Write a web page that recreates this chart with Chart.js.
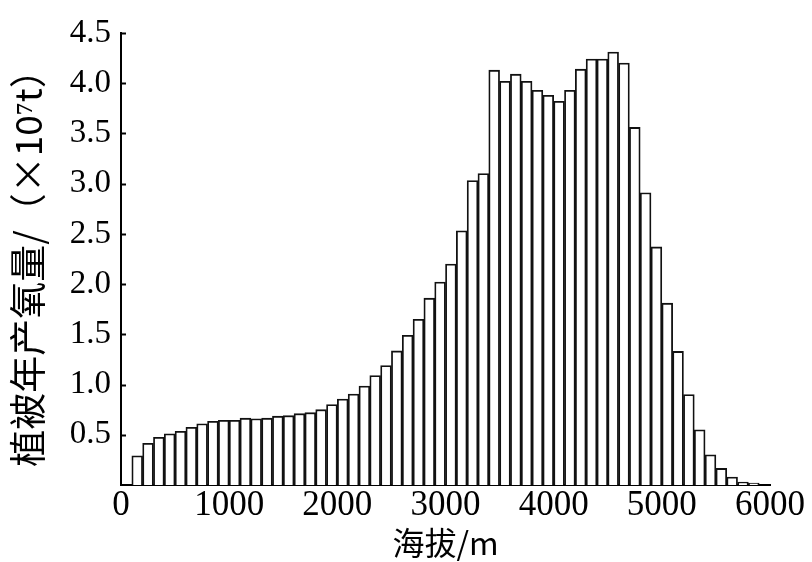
<!DOCTYPE html>
<html>
<head>
<meta charset="utf-8">
<title>植被年产氧量</title>
<script src="https://cdn.jsdelivr.net/npm/chart.js@4/dist/chart.umd.min.js"></script>
<style>
  html, body { margin: 0; padding: 0; background: #fff; }
  canvas { display: block; }
</style>
</head>
<body>
<canvas id="myChart" width="812" height="562"></canvas>
<script>
// altitude bins: each bar covers 100 m, centers at 150, 250 ... 5850
var altitudes = [150, 250, 350, 450, 550, 650, 750, 850, 950, 1050,
    1150, 1250, 1350, 1450, 1550, 1650, 1750, 1850, 1950, 2050,
    2150, 2250, 2350, 2450, 2550, 2650, 2750, 2850, 2950, 3050,
    3150, 3250, 3350, 3450, 3550, 3650, 3750, 3850, 3950, 4050,
    4150, 4250, 4350, 4450, 4550, 4650, 4750, 4850, 4950, 5050,
    5150, 5250, 5350, 5450, 5550, 5650, 5750, 5850];
// oxygen output, x10^7 t
var oxygen = [0.29, 0.415, 0.475, 0.51, 0.535, 0.575, 0.61, 0.635, 0.645, 0.645,
    0.665, 0.66, 0.665, 0.685, 0.69, 0.71, 0.72, 0.75, 0.80, 0.855,
    0.905, 0.985, 1.09, 1.19, 1.335, 1.49, 1.65, 1.86, 2.02, 2.20,
    2.53, 3.03, 3.10, 4.13, 4.02, 4.09, 4.02, 3.93, 3.88, 3.82,
    3.93, 4.14, 4.24, 4.24, 4.31, 4.20, 3.56, 2.91, 2.37, 1.81,
    1.33, 0.90, 0.55, 0.30, 0.165, 0.08, 0.03, 0.02];
var xTicks = [0, 1000, 2000, 3000, 4000, 5000, 6000];
var yTicks = [0.5, 1.0, 1.5, 2.0, 2.5, 3.0, 3.5, 4.0, 4.5];

var points = altitudes.map(function(a, i) { return {x: a, y: oxygen[i]}; });

// short tick marks on the inner side of the y axis
var innerTicks = {
    id: 'innerTicks',
    afterDraw: function(chart) {
        var c = chart.ctx, y = chart.scales.y, left = chart.chartArea.left;
        c.save();
        c.strokeStyle = '#000';
        c.lineWidth = 2;
        yTicks.forEach(function(v) {
            var py = Math.round(y.getPixelForValue(v)) + 0.5;
            c.beginPath();
            c.moveTo(left, py);
            c.lineTo(left + 5, py);
            c.stroke();
        });
        c.restore();
    }
};

var ctx = document.getElementById("myChart");
new Chart(ctx, {
    type: 'bar',
    data: {
        datasets: [{
            data: points,
            backgroundColor: '#fff',
            borderColor: '#111',
            borderWidth: 1.8,
            barPercentage: 1,
            categoryPercentage: 1
        }]
    },
    options: {
        responsive: false,
        animation: false,
        layout: { padding: { top: 33, right: 42, left: 0, bottom: 0 } },
        plugins: {
            legend: { display: false },
            tooltip: { enabled: false }
        },
        scales: {
            x: {
                type: 'linear',
                min: 0,
                max: 6000,
                offset: false,
                afterFit: function(s) { s.height = 77; },
                afterBuildTicks: function(s) {
                    s.ticks = xTicks.map(function(v) { return {value: v}; });
                },
                grid: { display: false, drawTicks: false },
                border: { display: true, color: '#000', width: 2 },
                ticks: {
                    padding: 0,
                    maxRotation: 0,
                    color: '#000',
                    font: { family: 'Liberation Serif', size: 35 },
                    callback: function(v) { return String(v); }
                },
                title: {
                    display: true,
                    text: '海拔/m',
                    color: '#000',
                    padding: { top: 0, bottom: 0 },
                    font: { family: 'Noto Sans CJK SC', size: 32 }
                }
            },
            y: {
                min: 0,
                max: 4.5,
                afterFit: function(s) { s.width = 121; },
                afterBuildTicks: function(s) {
                    s.ticks = [{value: 0}].concat(yTicks.map(function(v) { return {value: v}; }));
                },
                grid: { display: false, drawTicks: false },
                border: { display: true, color: '#000', width: 2 },
                ticks: {
                    padding: 10,
                    color: '#000',
                    font: { family: 'Liberation Serif', size: 33 },
                    callback: function(v) { return v === 0 ? '' : v.toFixed(1); }
                },
                title: {
                    display: true,
                    text: '植被年产氧量/（×10⁷t）',
                    color: '#000',
                    padding: { top: 6, bottom: 0 },
                    font: { family: 'Noto Sans CJK SC', size: 37 }
                }
            }
        }
    },
    plugins: [innerTicks]
});
</script>
</body>
</html>
